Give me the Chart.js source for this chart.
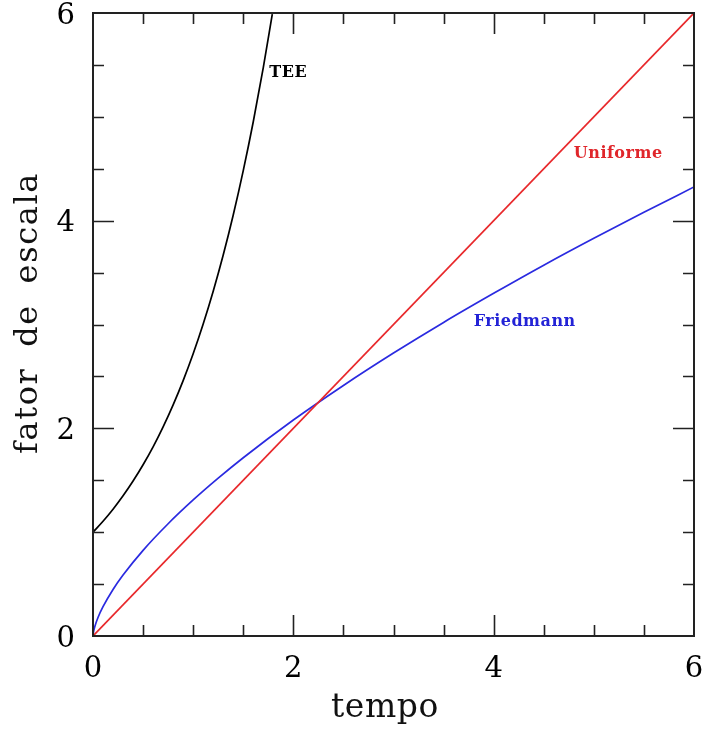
<!DOCTYPE html>
<html>
<head>
<meta charset="utf-8">
<script src="https://cdn.jsdelivr.net/npm/chart.js@4/dist/chart.umd.min.js"></script>
<style>
html,body{margin:0;padding:0;background:#fff;}
#wrap{width:704px;height:729px;}
</style>
</head>
<body>
<div id="wrap"><canvas id="c" width="704" height="729"></canvas></div>
<script>
// ---- data ----
const uniformeT = [0, 6];
const uniformeA = [0, 6];

const teeT = [0, 0.1, 0.2, 0.3, 0.4, 0.5, 0.6, 0.7, 0.8, 0.9, 1.0, 1.1, 1.2, 1.3, 1.4, 1.5, 1.6, 1.7, 1.79];
const teeA = [1.0, 1.105, 1.221, 1.35, 1.492, 1.649, 1.822, 2.014, 2.226, 2.46, 2.718, 3.004, 3.32, 3.669, 4.055, 4.482, 4.953, 5.474, 5.99];

const friedT = [0, 0.005, 0.01, 0.02, 0.05, 0.1, 0.2, 0.3, 0.5, 0.75, 1.0, 1.25, 1.5, 2.0, 2.5, 3.0, 3.5, 4.0, 4.5, 5.0, 5.5, 6.0];
const friedA = [0, 0.038, 0.061, 0.097, 0.178, 0.282, 0.448, 0.587, 0.825, 1.081, 1.31, 1.52, 1.717, 2.08, 2.413, 2.725, 3.02, 3.30, 3.571, 3.83, 4.08, 4.325];

const tickValues = [0, 0.5, 1, 1.5, 2, 2.5, 3, 3.5, 4, 4.5, 5, 5.5, 6];
const tickLabels = {0: "0", 2: "2", 4: "4", 6: "6"};

const seriesNames = ["TEE", "Uniforme", "Friedmann"];
const xTitle = "tempo";
const yTitle = "fator de escala";

// label anchors (data coordinates)
const labelAnchors = [
  {text: "TEE", t: 1.76, a: 5.42, color: "#000000"},
  {text: "Uniforme", t: 4.80, a: 4.64, color: "#e0262b"},
  {text: "Friedmann", t: 3.80, a: 3.03, color: "#2323d6"}
];

function pts(xs, ys){ return xs.map((x,i)=>({x:x, y:ys[i]})); }

const RED = "#e8282b", BLUE = "#2a2ae0", BLACK = "#000000";

const framePlugin = {
  id: "frame",
  afterDatasetsDraw(chart){
    const ctx = chart.ctx, a = chart.chartArea;
    const xs = chart.scales.x, ys = chart.scales.y;
    ctx.save();
    ctx.strokeStyle = "#222";
    ctx.lineWidth = 2;
    ctx.strokeRect(a.left, a.top, a.right - a.left, a.bottom - a.top);
    ctx.lineWidth = 1.6;
    ctx.beginPath();
    tickValues.forEach(v => {
      const major = (v in tickLabels);
      const len = major ? 21 : 11;
      const px = Math.round(xs.getPixelForValue(v)) + 0.5;
      if (v > 0 && v < 6) {
        ctx.moveTo(px, a.bottom); ctx.lineTo(px, a.bottom - len);
        ctx.moveTo(px, a.top); ctx.lineTo(px, a.top + len);
      }
      const py = Math.round(ys.getPixelForValue(v)) + 0.5;
      if (v > 0 && v < 6) {
        ctx.moveTo(a.left, py); ctx.lineTo(a.left + len, py);
        ctx.moveTo(a.right, py); ctx.lineTo(a.right - len, py);
      }
    });
    ctx.stroke();
    // series labels
    ctx.font = "bold 16px 'DejaVu Serif'";
    ctx.letterSpacing = "0.5px";
    ctx.textBaseline = "middle";
    ctx.textAlign = "left";
    labelAnchors.forEach(l => {
      ctx.fillStyle = l.color;
      ctx.fillText(l.text, xs.getPixelForValue(l.t), ys.getPixelForValue(l.a));
    });
    // axis titles
    ctx.fillStyle = "#111";
    ctx.font = "33px 'DejaVu Serif'";
    ctx.letterSpacing = "0.6px";
    ctx.textAlign = "center";
    ctx.textBaseline = "alphabetic";
    ctx.fillText(xTitle, 385, 717);
    ctx.font = "32px 'DejaVu Serif'";
    ctx.letterSpacing = "1.6px";
    ctx.wordSpacing = "9px";
    ctx.translate(37, 313);
    ctx.rotate(-Math.PI/2);
    ctx.fillText(yTitle, 0, 0);
    ctx.restore();
  }
};

const tickFont = {family: "'DejaVu Serif'", size: 29};

new Chart(document.getElementById("c"), {
  type: "scatter",
  data: {
    datasets: [
      {label: seriesNames[0], data: pts(teeT, teeA), showLine: true, borderColor: BLACK, borderWidth: 1.7, pointRadius: 0, cubicInterpolationMode: "monotone"},
      {label: seriesNames[1], data: pts(uniformeT, uniformeA), showLine: true, borderColor: RED, borderWidth: 1.7, pointRadius: 0},
      {label: seriesNames[2], data: pts(friedT, friedA), showLine: true, borderColor: BLUE, borderWidth: 1.7, pointRadius: 0, cubicInterpolationMode: "monotone"}
    ]
  },
  options: {
    responsive: false,
    animation: false,
    events: [],
    layout: {padding: {left: 0, right: 10, top: 13, bottom: 0}},
    plugins: {legend: {display: false}, tooltip: {enabled: false}},
    scales: {
      x: {
        type: "linear", min: 0, max: 6,
        grid: {display: false, drawTicks: false},
        border: {display: false},
        afterBuildTicks: s => { s.ticks = tickValues.map(v => ({value: v})); },
        ticks: {autoSkip: false, maxRotation: 0, color: "#000", font: tickFont, padding: 16,
          callback: v => (v in tickLabels) ? tickLabels[v] : ""},
        afterFit: s => { s.height = 93; s.paddingLeft = 0; s.paddingRight = 0; s.paddingTop = 0; s.paddingBottom = 0; }
      },
      y: {
        type: "linear", min: 0, max: 6,
        grid: {display: false, drawTicks: false},
        border: {display: false},
        afterBuildTicks: s => { s.ticks = tickValues.map(v => ({value: v})); },
        ticks: {autoSkip: false, color: "#000", font: tickFont, padding: 18, labelOffset: 3,
          callback: v => (v in tickLabels) ? tickLabels[v] : ""},
        afterFit: s => { s.width = 93; s.paddingLeft = 0; s.paddingRight = 0; s.paddingTop = 0; s.paddingBottom = 0; }
      }
    }
  },
  plugins: [framePlugin]
});
</script>
</body>
</html>
